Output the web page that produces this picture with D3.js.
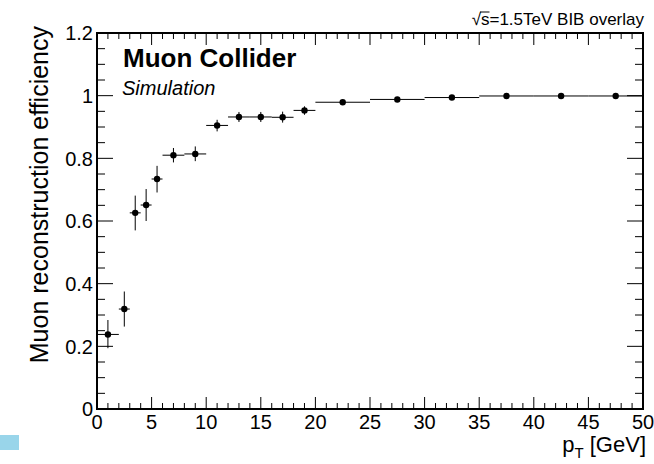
<!DOCTYPE html>
<html><head><meta charset="utf-8">
<script src="https://cdn.jsdelivr.net/npm/d3@7"></script>
<style>
body{margin:0;background:#fff;}
svg{display:block;font-family:"Liberation Sans",Arial,Helvetica,sans-serif;}
</style></head>
<body><svg id="c" width="654" height="464"></svg>
<script>
// bin edges (pT, GeV)
const binLo = [0,2,3,4,5,6,8,10,12,14,16,18,20,25,30,35,40,45];
const binHi = [2,3,4,5,6,8,10,12,14,16,18,20,25,30,35,40,45,50];
// efficiency and its error band
const eff   = [0.238,0.319,0.626,0.651,0.734,0.810,0.814,0.905,0.932,0.932,0.931,0.953,0.979,0.988,0.994,0.999,0.999,0.999];
const effLo = [0.194,0.263,0.570,0.600,0.691,0.787,0.791,0.886,0.916,0.916,0.914,0.939,0.972,0.983,0.990,0.996,0.996,0.996];
const effHi = [0.284,0.375,0.681,0.702,0.776,0.833,0.838,0.923,0.948,0.948,0.949,0.966,0.985,0.993,0.997,1.000,1.000,1.000];
const xTicks = [0,5,10,15,20,25,30,35,40,45,50];
const yTicks = [0,0.2,0.4,0.6,0.8,1,1.2];
const yTickLabels = ["0","0.2","0.4","0.6","0.8","1","1.2"];

const svg = d3.select("#c");
const L=97, R=643, T=33, B=409;
const x = d3.scaleLinear().domain([0,50]).range([L,R]);
const y = d3.scaleLinear().domain([0,1.2]).range([B,T]);

// light blue swatch bottom-left
svg.append("rect").attr("x",0).attr("y",435).attr("width",19).attr("height",15).attr("fill","#99d5ea");

const g = svg.append("g");
const xMinor = d3.range(0,50.001,1);
const yMinor = d3.range(0,1.2001,0.05);
function isMajorX(v){return Math.abs(v/5-Math.round(v/5))<1e-6;}
function isMajorY(v){return Math.abs(v/0.2-Math.round(v/0.2))<1e-6;}
xMinor.forEach(v=>{
  const len = isMajorX(v)?12:6;
  g.append("line").attr("x1",x(v)).attr("x2",x(v)).attr("y1",B).attr("y2",B-len).attr("stroke","#000").attr("stroke-width",1);
  g.append("line").attr("x1",x(v)).attr("x2",x(v)).attr("y1",T).attr("y2",T+len).attr("stroke","#000").attr("stroke-width",1);
});
yMinor.forEach(v=>{
  const len = isMajorY(v)?16:8;
  g.append("line").attr("x1",L).attr("x2",L+len).attr("y1",y(v)).attr("y2",y(v)).attr("stroke","#000").attr("stroke-width",1);
  g.append("line").attr("x1",R).attr("x2",R-len).attr("y1",y(v)).attr("y2",y(v)).attr("stroke","#000").attr("stroke-width",1);
});
g.append("rect").attr("x",L).attr("y",T).attr("width",R-L).attr("height",B-T)
  .attr("fill","none").attr("stroke","#000").attr("stroke-width",2);

// tick labels
xTicks.forEach(v=>{
  svg.append("text").attr("x",x(v)).attr("y",429).attr("text-anchor","middle")
    .attr("font-size",20).text(v);
});
yTicks.forEach((v,i)=>{
  svg.append("text").attr("x",93).attr("y",y(v)).attr("dy","0.36em").attr("text-anchor","end")
    .attr("font-size",20).text(yTickLabels[i]);
});

// axis titles
svg.append("text").attr("transform","translate(48,26) rotate(-90)").attr("text-anchor","end")
  .attr("font-size",25).text("Muon reconstruction efficiency");
const xt = svg.append("text").attr("x",646).attr("y",452).attr("text-anchor","end").attr("font-size",22);
xt.append("tspan").text("p");
xt.append("tspan").attr("font-size",15).attr("dy",6).text("T");
xt.append("tspan").attr("dy",-6).text(" [GeV]");

// labels
svg.append("text").attr("x",123).attr("y",67).attr("font-size",26).attr("font-weight","bold").text("Muon Collider");
svg.append("text").attr("x",122).attr("y",95).attr("font-size",20).attr("font-style","italic").text("Simulation");
const tt = svg.append("text").attr("x",644).attr("y",25).attr("text-anchor","end").attr("font-size",17);
tt.append("tspan").text("√");
const sSpan = tt.append("tspan").text("s");
tt.append("tspan").text("=1.5TeV BIB overlay");
const bb = sSpan.node().getExtentOfChar(0);
svg.append("line").attr("x1",bb.x-1).attr("x2",bb.x+bb.width).attr("y1",bb.y+2).attr("y2",bb.y+2)
  .attr("stroke","#000").attr("stroke-width",1);

// data
const pts = svg.append("g");
eff.forEach((v,i)=>{
  const xc = x((binLo[i]+binHi[i])/2);
  pts.append("line").attr("x1",x(binLo[i])).attr("x2",x(binHi[i])).attr("y1",y(v)).attr("y2",y(v))
    .attr("stroke","#000").attr("stroke-width",1);
  pts.append("line").attr("x1",xc).attr("x2",xc).attr("y1",y(effLo[i])).attr("y2",y(effHi[i]))
    .attr("stroke","#000").attr("stroke-width",1);
  pts.append("circle").attr("cx",xc).attr("cy",y(v)).attr("r",3.2).attr("fill","#000");
});
</script></body></html>
